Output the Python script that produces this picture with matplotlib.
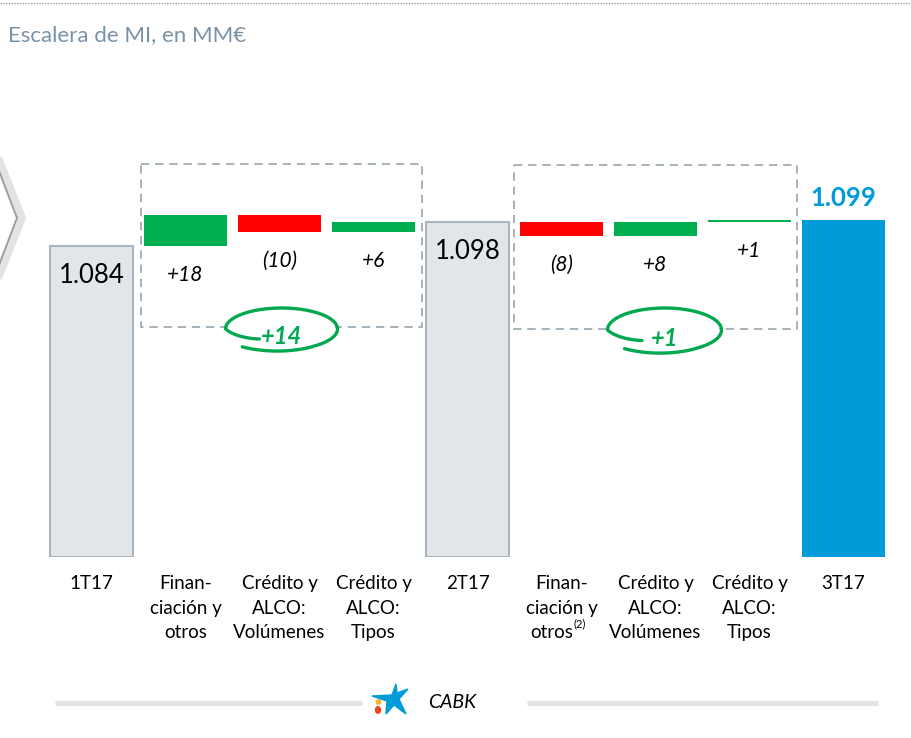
import matplotlib
matplotlib.use('Agg')
import matplotlib.pyplot as plt
import numpy as np
from matplotlib.patches import Rectangle, Ellipse, Polygon, Circle

plt.rcParams['font.family'] = ['Lato', 'DejaVu Sans']

# datos
categorias = ['1T17', 'Finan-\nciación y\notros', 'Crédito y\nALCO:\nVolúmenes',
              'Crédito y\nALCO:\nTipos', '2T17', 'Finan-\nciación y',
              'Crédito y\nALCO:\nVolúmenes', 'Crédito y\nALCO:\nTipos', '3T17']
totales = [1084, 1098, 1099]          # 1T17, 2T17, 3T17
variacion_2t = [18, -10, 6]
variacion_3t = [-8, 8, 1]

GRIS = '#e2e6e9'
GRIS_BORDE = '#a9b6bf'
AZUL = '#009bd9'
VERDE = '#00b050'
ROJO = '#ff0000'

W, H = 911, 738
fig = plt.figure(figsize=(W / 100, H / 100), dpi=100)

ymin = 902.6
ymax = ymin + 417 / 1.714
ax = fig.add_axes([44.5 / W, (H - 557) / H, 846 / W, 417 / H])
ax.set_xlim(-0.5, 8.5)
ax.set_ylim(ymin, ymax)
for s in ax.spines.values():
    s.set_visible(False)
ax.set_yticks([])
ax.set_xticks(range(9), categorias)
ax.tick_params(axis='x', length=0, pad=13, labelsize=13.5)
for t in ax.get_xticklabels():
    t.set_linespacing(1.55)

bw = 0.883
px = 72 / 100  # puntos por pixel


def fmt(v):
    return f'{v:,}'.replace(',', '.')


def delta_txt(d):
    return f'+{d}' if d > 0 else f'({-d})'


# barras totales
idx_tot = [0, 4, 8]
for i, v in zip(idx_tot[:2], totales[:2]):
    ax.bar(i, v - ymin, bottom=ymin, width=bw, color=GRIS, edgecolor=GRIS_BORDE, linewidth=1.5)
    ax.annotate(fmt(v), (i, v), xytext=(0, -29 * px), textcoords='offset points',
                ha='center', va='center', fontsize=18.5, color='black')
ax.bar(8, totales[2] - ymin, bottom=ymin, width=bw, color=AZUL)
ax.annotate(fmt(totales[2]), (8, totales[2]), xytext=(0, 22 * px), textcoords='offset points',
            ha='center', va='center', fontsize=18.5, fontweight='bold', color=AZUL)

# barras de variación
for start, base, deltas in [(1, totales[0], variacion_2t), (5, totales[1], variacion_3t)]:
    run = base
    for k, d in enumerate(deltas):
        i = start + k
        lo = min(run, run + d)
        ax.bar(i, abs(d), bottom=lo, width=bw, color=VERDE if d > 0 else ROJO)
        ax.annotate(delta_txt(d), (i, lo), xytext=(0, -29 * px), textcoords='offset points',
                    ha='center', va='center', fontsize=15, fontstyle='italic', color='black')
        run += d

# capa superpuesta en pixeles
ov = fig.add_axes([0, 0, 1, 1])
ov.set_xlim(0, W)
ov.set_ylim(H, 0)
ov.axis('off')
ov.patch.set_alpha(0)

# tercera línea "otros(2)" del 3T17
ov.text(573, 632, 'otros', fontsize=13.5, ha='right', va='center')
ov.text(574, 624, '(2)', fontsize=8, ha='left', va='center')

# línea punteada superior y título
ov.plot([0, W], [3, 3], color='#9aa0a6', lw=1, ls=(0, (1, 1)))
ov.text(8, 35, 'Escalera de MI, en MM€', fontsize=16, color='#7a92a8',
        fontweight='normal', ha='left', va='center')

# chevron izquierdo
ov.plot([-6, 21, -6], [150, 218, 286], color='#dcdcdc', lw=7, alpha=0.8, solid_joinstyle='miter')
ov.plot([-8, 17, -8], [152, 218, 284], color='#9a9a9a', lw=1.2, solid_joinstyle='miter')

# cajas discontinuas
for x0, y0, x1, y1 in [(141, 164, 422, 327), (514, 165, 797, 329)]:
    ov.add_patch(Rectangle((x0, y0), x1 - x0, y1 - y0, fill=False, edgecolor='#96a5af',
                           lw=1.2, ls=(0, (5, 3.5))))

# elipses dibujadas a mano
for (cx, cy, a, b), deltas in [((281.5, 329, 56, 21), variacion_2t),
                                ((664.5, 330, 57, 22), variacion_3t)]:
    ov.add_patch(Ellipse((cx, cy), 2 * a - 6, 2 * b - 6, color='white', zorder=3))
    phi = np.linspace(0.72 * np.pi, 2.72 * np.pi, 200)
    r = np.interp(phi, [0.72 * np.pi, np.pi, 2.3 * np.pi, 2.72 * np.pi], [0.62, 1.0, 1.0, 1.1])
    ov.plot(cx + a * r * np.cos(phi), cy + b * r * np.sin(phi), color='#00a94f', lw=2.4,
            solid_capstyle='round', zorder=4)
    ov.text(cx, cy + 8, f'+{sum(deltas)}', fontsize=17, fontweight='bold', fontstyle='italic',
            color='#00a94f', ha='center', va='center', zorder=5)

# pie con logo
ov.plot([55, 362], [703, 703], color='#e1e4e7', lw=3.6, solid_capstyle='butt')
ov.plot([527, 878], [703, 703], color='#e1e4e7', lw=3.6, solid_capstyle='butt')
estrella = [(396, 684), (392, 695), (372, 696), (387, 701), (386, 714),
            (394, 705), (406, 714), (399, 699), (408, 689), (397, 693)]
ov.add_patch(Polygon(estrella, closed=True, color='#009bd9'))
ov.add_patch(Circle((378.5, 702), 2.2, color='#f5b324'))
ov.add_patch(Ellipse((378, 710), 5, 6.5, color='#e9451f'))
ov.text(452, 703, 'CABK', fontsize=14, fontstyle='italic', ha='center', va='center')

fig.savefig('out.png', dpi=100)
